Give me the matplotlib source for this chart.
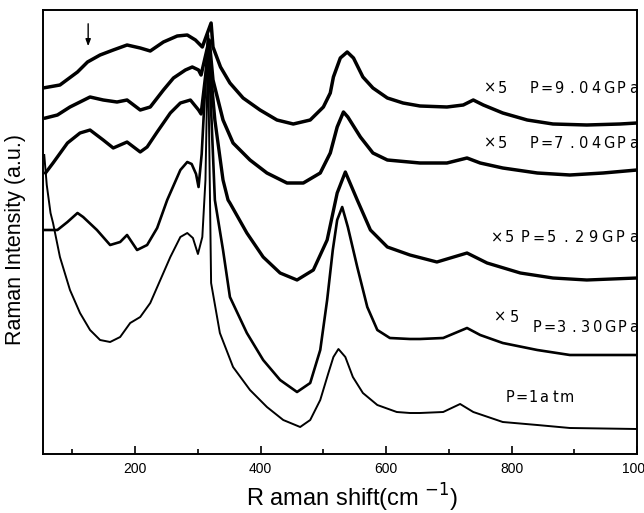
import matplotlib
matplotlib.use("Agg")
import matplotlib.pyplot as plt
from matplotlib.ticker import MultipleLocator
from matplotlib.transforms import offset_copy

plt.rcParams['font.family'] = ['Liberation Sans', 'DejaVu Sans']

# Raman shift (cm^-1) and intensity (a.u.)
shift_9gpa = [53, 80, 108, 124, 144, 165, 187, 208, 224, 245, 267, 283, 296, 307, 321, 324, 336, 351, 372, 399,
              426, 452, 479, 500, 511, 516, 527, 538, 548, 563, 579, 602, 627, 654, 697, 723, 739, 755, 786,
              825, 866, 920, 973, 1000]
int_9gpa = [366, 369, 382, 392, 399, 404, 409, 406, 403, 412, 418, 419, 414, 407, 431, 407, 387, 371, 356, 344,
            334, 330, 334, 347, 361, 377, 396, 402, 396, 377, 366, 356, 351, 348, 347, 349, 354, 349, 341,
            334, 330, 329, 330, 331]

shift_7gpa = [57, 76, 96, 128, 149, 171, 187, 208, 224, 245, 261, 280, 291, 301, 305, 318, 324, 340, 356, 383,
              410, 442, 468, 495, 511, 522, 532, 539, 559, 579, 602, 654, 697, 729, 750, 786, 841, 893, 946, 1000]
int_7gpa = [336, 339, 347, 357, 354, 352, 354, 344, 347, 364, 376, 384, 387, 384, 379, 414, 374, 334, 311, 294,
            281, 271, 271, 281, 301, 327, 342, 337, 317, 301, 294, 291, 291, 296, 291, 286, 281, 279, 281, 284]

shift_5gpa = [57, 69, 92, 112, 128, 149, 165, 187, 208, 219, 235, 256, 272, 288, 301, 305, 317, 327, 340, 348,
              351, 378, 404, 431, 458, 484, 506, 522, 535, 554, 575, 602, 638, 681, 729, 761, 814, 866, 920, 1000]
int_5gpa = [281, 291, 311, 321, 324, 314, 306, 312, 302, 307, 322, 341, 351, 354, 344, 340, 404, 334, 274, 254,
            251, 221, 197, 181, 174, 184, 214, 261, 282, 254, 224, 207, 199, 192, 201, 191, 181, 176, 174, 176]

shift_3gpa = [53, 76, 92, 108, 117, 139, 160, 176, 187, 203, 219, 235, 251, 272, 283, 290, 297, 301, 306, 316,
              327, 340, 351, 378, 404, 431, 458, 479, 495, 506, 515, 522, 530, 539, 554, 570, 586, 606, 638,
              654, 691, 729, 750, 786, 841, 893, 1000]
int_3gpa = [224, 224, 232, 241, 237, 224, 209, 212, 219, 204, 209, 226, 254, 284, 292, 290, 280, 267, 300, 419,
            254, 204, 157, 121, 94, 74, 62, 71, 104, 154, 204, 234, 247, 227, 187, 147, 124, 116, 115,
            115, 116, 126, 119, 111, 104, 99, 99]

shift_1atm = [55, 59, 65, 69, 80, 96, 112, 128, 144, 160, 176, 192, 208, 224, 240, 256, 272, 283, 292, 300,
              307, 312, 316, 321, 335, 356, 383, 410, 436, 463, 479, 495, 508, 516, 524, 535, 547, 563, 586,
              617, 638, 654, 691, 718, 739, 786, 841, 893, 1000]
int_1atm = [299, 269, 241, 231, 197, 164, 141, 124, 114, 112, 117, 131, 137, 151, 174, 197, 217, 221, 216, 200,
            217, 274, 409, 171, 121, 87, 64, 47, 34, 27, 34, 54, 81, 97, 105, 97, 77, 61, 49,
            42, 41, 41, 42, 50, 42, 32, 29, 26, 25]

spectra = [
    (shift_9gpa, int_9gpa, 2.5),
    (shift_7gpa, int_7gpa, 2.5),
    (shift_5gpa, int_5gpa, 2.4),
    (shift_3gpa, int_3gpa, 1.9),
    (shift_1atm, int_1atm, 1.4),
]

pressure_labels = ["P=9.04GPa", "P=7.04GPa", "P=5.29GPa", "P=3.30GPa", "P=1atm"]
scale_labels = ["×5", "×5", "×5", "×5"]

fig = plt.figure(figsize=(6.44, 5.13), dpi=100)
ax = fig.add_axes([43/644, 59/513, 594/644, 444/513])

for xs, ys, lw in spectra:
    ax.plot(xs, ys, color='black', lw=lw, solid_joinstyle='round')

ax.set_xlim(53, 1000)
ax.set_ylim(0, 444)


def spaced_text(x, y, s, step_px):
    """Draw text with wide letter spacing (one glyph at a time)."""
    step_pt = step_px * 72.0 / fig.dpi
    for i, ch in enumerate(s):
        tr = offset_copy(ax.transData, fig=fig, x=i * step_pt, y=0, units='points')
        ax.text(x, y, ch, transform=tr, ha='center', va='center',
                fontsize=10.5, family='DejaVu Sans', color='black')


# labels beside each spectrum
spaced_text(766, 366, scale_labels[0], 12)
spaced_text(836, 366, pressure_labels[0], 12.4)
spaced_text(766, 311, scale_labels[1], 12)
spaced_text(836, 311, pressure_labels[1], 12.4)
spaced_text(777, 216, scale_labels[2], 12)
spaced_text(821, 216, pressure_labels[2], 13.6)
spaced_text(782, 137, scale_labels[3], 14)
spaced_text(841, 127, pressure_labels[3], 12.1)
spaced_text(798, 57, pressure_labels[4], 11.2)

ax.annotate('', xy=(125, 405), xytext=(125, 433),
            arrowprops=dict(arrowstyle='-|>,head_width=0.15,head_length=0.4', color='black', lw=1))

ax.set_xticks([200, 400, 600, 800, 1000])
ax.set_xticklabels(["200", "400", "600", "800", "1000"])
ax.xaxis.set_minor_locator(MultipleLocator(100))
ax.tick_params(axis='x', which='major', direction='in', length=6, width=1.2, labelsize=10, pad=6)
ax.tick_params(axis='x', which='minor', direction='in', length=3.5, width=1.2)
ax.set_yticks([])
for sp in ax.spines.values():
    sp.set_linewidth(1.4)

ax.set_xlabel("R aman shift(cm $^{-1}$)", fontsize=17)
ax.xaxis.set_label_coords(0.52, -0.063)
ax.set_ylabel("Raman Intensity (a.u.)", fontsize=15.5)
ax.yaxis.set_label_coords(-0.028, 0.484)

fig.savefig("out.png", dpi=100)
